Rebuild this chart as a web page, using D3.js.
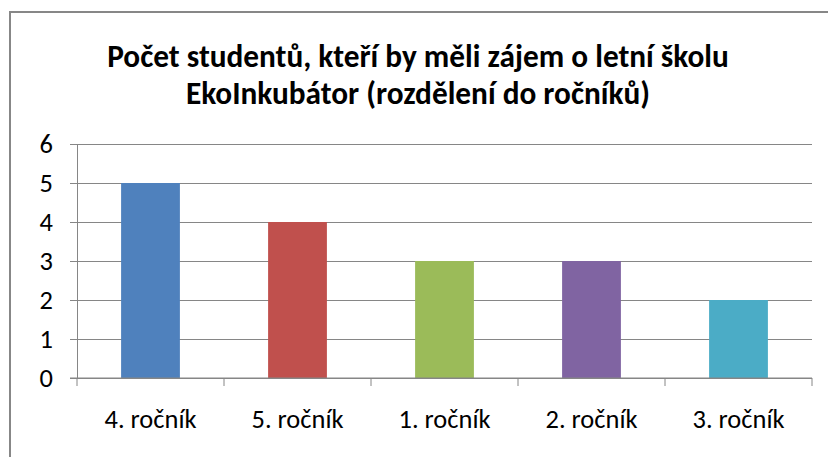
<!DOCTYPE html>
<html>
<head>
<meta charset="utf-8">
<script src="https://cdn.jsdelivr.net/npm/d3@7"></script>
<style>
  body { margin: 0; background: #fff; }
  svg text { font-family: Calibri, Carlito, "Open Sans", sans-serif; }
</style>
</head>
<body>
<div id="container"></div>
<script>
const categories = ["4. ročník", "5. ročník", "1. ročník", "2. ročník", "3. ročník"];
const values = [5, 4, 3, 3, 2];
const colors = ["#4F81BD", "#C0504D", "#9BBB59", "#8064A2", "#4BACC6"];
const yTicks = [0, 1, 2, 3, 4, 5, 6];
const titleLines = ["Počet studentů, kteří by měli zájem o letní školu", "EkoInkubátor (rozdělení do ročníků)"];

const width = 828, height = 457;
const marginLeft = 77, marginRight = 16, marginTop = 144, marginBottom = 79;

const svg = d3.select("#container").append("svg")
    .attr("width", width)
    .attr("height", height)
    .attr("viewBox", [0, 0, width, height]);

// fit a text to a target width by changing its font size
function fitSize(sel, target) {
    const w = sel.node().getComputedTextLength();
    const fs = parseFloat(sel.attr("font-size"));
    return fs * target / w;
}

// chart frame
svg.append("rect")
    .attr("x", 10).attr("y", 12)
    .attr("width", 830).attr("height", 470)
    .attr("fill", "#fff")
    .attr("stroke", "#878787")
    .attr("stroke-width", 2);

const x = d3.scaleBand()
    .domain(categories)
    .range([marginLeft, width - marginRight])
    .paddingInner(0.6)
    .paddingOuter(0.3);

const xBand = d3.scaleBand()
    .domain(categories)
    .range([marginLeft, width - marginRight]);

const y = d3.scaleLinear()
    .domain([0, 6])
    .range([height - marginBottom, marginTop]);

// gridlines + y axis
const yAxis = svg.append("g")
    .attr("transform", `translate(${marginLeft},0)`)
    .call(d3.axisLeft(y).tickValues(yTicks).tickFormat(d3.format("d")).tickSize(7).tickPadding(17))
    .call(g => g.select(".domain").attr("stroke", "#868686"))
    .call(g => g.selectAll(".tick line").attr("stroke", "#868686"))
    .call(g => g.selectAll(".tick").append("line")
        .attr("x2", width - marginRight - marginLeft)
        .attr("stroke", "#868686"))
    .call(g => g.selectAll(".tick text")
        .attr("fill", "#000")
        .attr("font-size", 20));

svg.append("g")
    .selectAll()
    .data(values)
    .join("rect")
    .attr("x", (d, i) => x(categories[i]))
    .attr("y", d => y(d))
    .attr("width", x.bandwidth())
    .attr("height", d => y(0) - y(d))
    .attr("fill", (d, i) => colors[i]);

// x axis
const xAxis = svg.append("g")
    .attr("transform", `translate(0,${height - marginBottom})`);
xAxis.append("line")
    .attr("x1", marginLeft - 7).attr("x2", width - marginRight)
    .attr("stroke", "#868686");
xAxis.selectAll(".tk")
    .data(categories)
    .join("line")
    .attr("x1", d => xBand(d) + xBand.bandwidth())
    .attr("x2", d => xBand(d) + xBand.bandwidth())
    .attr("y2", 8)
    .attr("stroke", "#868686");
xAxis.append("line")
    .attr("x1", marginLeft).attr("x2", marginLeft)
    .attr("y2", 8)
    .attr("stroke", "#868686");
const catLabels = xAxis.selectAll(".cat")
    .data(categories)
    .join("text")
    .attr("x", d => xBand(d) + xBand.bandwidth() / 2)
    .attr("y", 50)
    .attr("text-anchor", "middle")
    .attr("font-size", 20)
    .text(d => d);
const catSize = fitSize(catLabels.filter((d, i) => i === 0), 92);
catLabels.attr("font-size", catSize);
yAxis.selectAll(".tick text").attr("font-size", catSize);

const title = svg.append("g")
    .selectAll("text")
    .data(titleLines)
    .join("text")
    .attr("x", 418)
    .attr("y", (d, i) => 67 + i * 37)
    .attr("text-anchor", "middle")
    .attr("font-weight", "bold")
    .attr("font-size", 26)
    .text(d => d);
title.attr("font-size", fitSize(title.filter((d, i) => i === 0), 622));
</script>
</body>
</html>
